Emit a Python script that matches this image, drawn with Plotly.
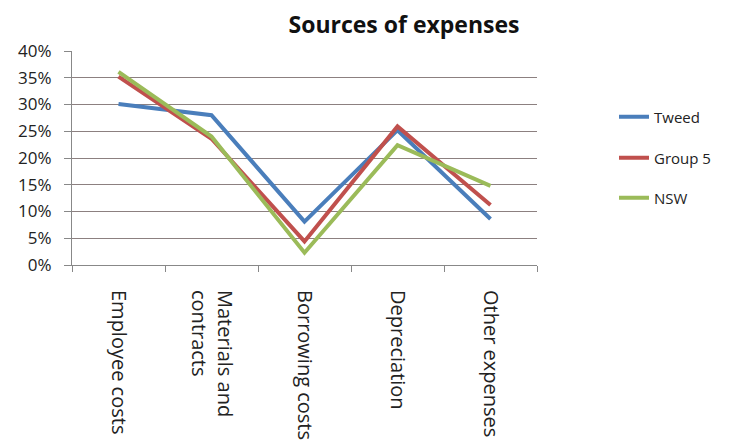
import plotly.graph_objects as go

categories = ["Employee costs", "Materials and<br>contracts", "Borrowing costs", "Depreciation", "Other expenses"]
tweed = [0.301, 0.280, 0.081, 0.252, 0.086]
group5 = [0.352, 0.236, 0.044, 0.259, 0.112]
nsw = [0.361, 0.240, 0.023, 0.224, 0.148]
y_ticks = [0, 0.05, 0.10, 0.15, 0.20, 0.25, 0.30, 0.35, 0.40]
y_tick_text = ["0%", "5%", "10%", "15%", "20%", "25%", "30%", "35%", "40%"]

series = [
    ("Tweed", tweed, "#4A7EBB", "legend"),
    ("Group 5", group5, "#C0504D", "legend2"),
    ("NSW", nsw, "#9BBB59", "legend3"),
]

FONT = "Open Sans, Carlito, Calibri, sans-serif"

fig = go.Figure()
for name, vals, color, leg in series:
    fig.add_trace(go.Scatter(
        x=categories, y=vals, name=name, mode="lines",
        line=dict(color=color, width=4),
        legend=leg, showlegend=True,
    ))

legend_style = dict(
    xref="container", yref="container", xanchor="left", yanchor="middle",
    bgcolor="rgba(0,0,0,0)", font=dict(family=FONT, size=15, color="#222"),
    itemwidth=30,
)
fig.update_layout(
    width=737, height=441,
    showlegend=True,
    margin=dict(l=72, r=200, t=51, b=176),
    paper_bgcolor="white", plot_bgcolor="white",
    title=dict(text="<b>Sources of expenses</b>", x=404 / 737, xanchor="center",
               y=1 - 25 / 441, yanchor="middle",
               font=dict(family=FONT, size=23, color="#111")),
    legend=dict(x=614 / 737, y=1 - 117 / 441, **legend_style),
    legend2=dict(x=614 / 737, y=1 - 158 / 441, **legend_style),
    legend3=dict(x=614 / 737, y=1 - 198 / 441, **legend_style),
    xaxis=dict(
        type="category", range=[-0.5, 4.5], automargin=False,
        tickson="boundaries", ticks="outside", ticklen=6, tickcolor="#888",
        showline=True, linecolor="#888", linewidth=1,
        showgrid=False, tickangle=90,
        tickfont=dict(family=FONT, size=20, color="#222"),
        ticklabelstandoff=20,
    ),
    yaxis=dict(
        range=[0, 0.4], tickvals=y_ticks, ticktext=y_tick_text, automargin=False,
        ticks="outside", ticklen=7, tickcolor="#888",
        showline=True, linecolor="#888", linewidth=1,
        showgrid=True, gridcolor="#8C8080", gridwidth=1.3,
        zeroline=False,
        tickfont=dict(family=FONT, size=17, color="#222"),
        ticklabelstandoff=9,
    ),
)

fig.write_html("out.html")
